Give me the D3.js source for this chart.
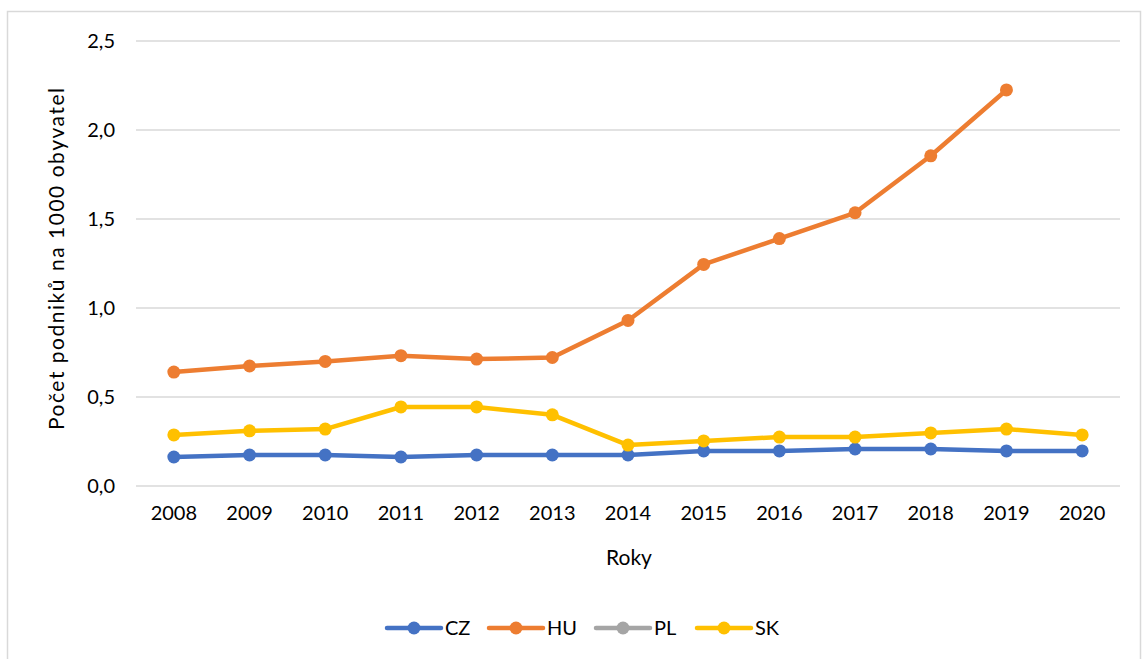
<!DOCTYPE html>
<html><head><meta charset="utf-8">
<script src="https://cdn.jsdelivr.net/npm/d3@7/dist/d3.min.js"></script>
<style>body{margin:0;background:#fff;} svg{display:block;} text{font-family:Lato,"Open Sans",sans-serif;fill:#000;}</style>
</head><body><svg id="c" width="1142" height="659"></svg>
<script>
const years = ["2008","2009","2010","2011","2012","2013","2014","2015","2016","2017","2018","2019","2020"];
const CZ = [0.163,0.174,0.174,0.163,0.174,0.174,0.174,0.197,0.197,0.208,0.208,0.197,0.197];
const HU = [0.64,0.674,0.70,0.732,0.713,0.722,0.93,1.245,1.39,1.535,1.855,2.225,null];
const PL = [null,null,null,null,null,null,null,null,null,null,null,null,null];
const SK = [0.287,0.31,0.32,0.444,0.444,0.40,0.23,0.253,0.275,0.275,0.298,0.32,0.287];
const yTicks = [0,0.5,1.0,1.5,2.0,2.5];
const seriesNames = ["CZ","HU","PL","SK"];
const colors = ["#4472C4","#ED7D31","#A5A5A5","#FFC000"];
const seriesData = [CZ,HU,PL,SK];

const svg = d3.select("#c");
svg.append("rect").attr("x",7.5).attr("y",11.5).attr("width",1133).attr("height",660)
  .attr("fill","#fff").attr("stroke","#d9d9d9").attr("stroke-width",1.5);

const x = d3.scaleBand().domain(years).range([136,1120]);
const y = d3.scaleLinear().domain([0,2.5]).range([486,41]);
const fmt = d => d3.format(".1f")(d).replace(".",",");

const g = svg.append("g");
g.selectAll("line.grid").data(yTicks).enter().append("line")
  .attr("x1",136).attr("x2",1120).attr("y1",d=>y(d)).attr("y2",d=>y(d))
  .attr("stroke","#d9d9d9").attr("stroke-width",1.5);

const yAxis = svg.append("g").attr("transform","translate(136,0)")
  .call(d3.axisLeft(y).tickValues(yTicks).tickFormat(fmt).tickSize(0).tickPadding(21));
yAxis.select(".domain").remove();
yAxis.selectAll("text").style("font-size","20px");

const xAxis = svg.append("g").attr("transform","translate(0,486)")
  .call(d3.axisBottom(x).tickSize(0).tickPadding(20));
xAxis.select(".domain").remove();
xAxis.selectAll("text").style("font-size","20px");

svg.append("text").attr("transform","translate(64,259) rotate(-90)").attr("text-anchor","middle")
  .attr("textLength",342).attr("lengthAdjust","spacing")
  .style("font-size","21px").text("Počet podniků na 1000 obyvatel");
svg.append("text").attr("x",629).attr("y",565).attr("text-anchor","middle")
  .style("font-size","21px").text("Roky");

const line = d3.line().defined(d=>d.v!=null).x(d=>x(d.k)+x.bandwidth()/2).y(d=>y(d.v));
seriesData.forEach((arr,i)=>{
  const pts = years.map((k,j)=>({k,v:arr[j]}));
  svg.append("path").datum(pts).attr("d",line).attr("fill","none")
    .attr("stroke",colors[i]).attr("stroke-width",4.5).attr("stroke-linejoin","round");
  svg.selectAll(null).data(pts.filter(d=>d.v!=null)).enter().append("circle")
    .attr("cx",d=>x(d.k)+x.bandwidth()/2).attr("cy",d=>y(d.v)).attr("r",6.5).attr("fill",colors[i]);
});

const legX = [387,489,596,697];
const leg = svg.append("g");
seriesNames.forEach((n,i)=>{
  const lx = legX[i];
  leg.append("line").attr("x1",lx).attr("x2",lx+54).attr("y1",628).attr("y2",628)
    .attr("stroke",colors[i]).attr("stroke-width",4.5).attr("stroke-linecap","round");
  leg.append("circle").attr("cx",lx+27).attr("cy",628).attr("r",6.5).attr("fill",colors[i]);
  leg.append("text").attr("x",lx+58).attr("y",635).style("font-size","20px").text(n);
});
</script></body></html>
